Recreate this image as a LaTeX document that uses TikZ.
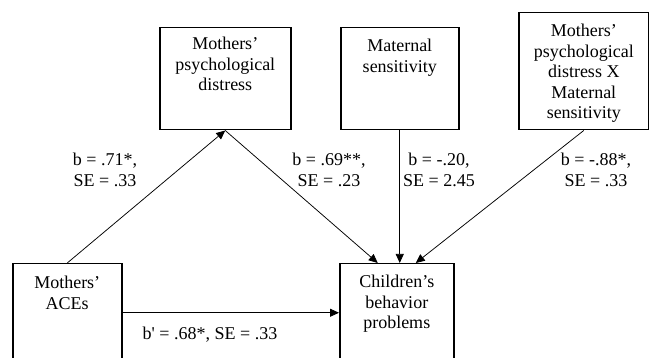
\documentclass[tikz,border=0pt]{standalone}
\usepackage{fontspec}
\setmainfont{Liberation Serif}
\usetikzlibrary{arrows.meta}

\begin{document}
\begin{tikzpicture}[x=1pt, y=-1pt, >={Triangle[length=9pt, width=8pt]}, font=\fontsize{18}{20.5}\selectfont]
	\tikzstyle{box}     = [draw=black, line width=1.5pt, inner sep=0pt, anchor=north west]
	\tikzstyle{boxtext} = [anchor=north, align=center, inner sep=0pt, yshift=-12pt]
	\tikzstyle{coef}    = [align=center, inner sep=0pt]
	\tikzstyle{link}    = [->, line width=0.75pt]

	\useasboundingbox (0,0) rectangle (649,358);
	\clip (0,0) rectangle (649,358);

	% variables
	\node[box, minimum width=131pt, minimum height=102pt, label={[boxtext, yshift=2pt]north:Mothers’\\psychological\\distress}] (distress) at (159,27) {};
	\node[box, minimum width=118pt, minimum height=102pt, label={[boxtext]north:Maternal\\sensitivity}] (maternal) at (340,27) {};
	\node[box, minimum width=130pt, minimum height=117pt, label={[boxtext]north:Mothers’\\psychological\\distress X\\Maternal\\sensitivity}] (interaction) at (518,12) {};
	\node[box, minimum width=109pt, minimum height=130pt, label={[boxtext, yshift=-1pt]north:Mothers’\\ACEs}] (aces) at (12,263) {};
	\node[box, minimum width=114pt, minimum height=130pt, label={[boxtext]north:Children’s\\behavior\\problems}] (children) at (339,263) {};

	% paths
	\draw[link] (aces.north) -- (distress.south);
	\draw[link] (distress.south) -- ([xshift=-19pt]children.north);
	\draw[link] (maternal.south) -- (maternal.south |- children.north);
	\draw[link] (interaction.south) -- ([xshift=19pt]children.north);
	\draw[link] ([yshift=16pt]aces.east) -- ([yshift=16pt]children.west);

	% coefficients
	\foreach \name/\x/\y/\txt in {b71/105/170/{b = .71*,\\SE = .33}, b69/329/170/{b = .69**,\\SE = .23}, b20/439/170/{b = -.20,\\SE = 2.45}, b88/596/170/{b = -.88*,\\SE = .33}}
		\node[coef] (\name) at (\x,\y) {\txt};
	\node[coef] (bprime) at (210,335) {b\textquotesingle{} = .68*, SE = .33};
\end{tikzpicture}
\end{document}
